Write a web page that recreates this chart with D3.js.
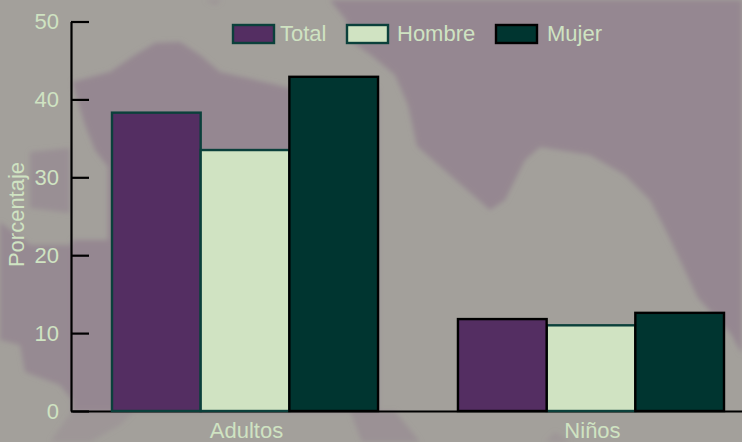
<!DOCTYPE html>
<html>
<head>
<meta charset="utf-8">
<script src="https://cdnjs.cloudflare.com/ajax/libs/d3/7.8.5/d3.min.js"></script>
<style>
html,body{margin:0;padding:0;background:#a3a09b;}
svg{display:block;}
text{font-family:"Liberation Sans",Arial,sans-serif;}
</style>
</head>
<body>
<script>
const categories = ["Adultos", "Niños"];
const seriesNames = ["Total", "Hombre", "Mujer"];
const total = [38.3, 11.8];
const hombre = [33.5, 11.0];
const mujer = [42.9, 12.6];
const yTicks = [0, 10, 20, 30, 40, 50];
const yLabel = "Porcentaje";

const W = 742, H = 442;
const textColor = "#cfe3c2";
const fills = {Total: "#542e62", Hombre: "#d0e3c2", Mujer: "#003530"};
const green = "#0b403b", black = "#000000";
const strokes = {
  Adultos: {Total: green, Hombre: green, Mujer: black},
  "Niños": {Total: black, Hombre: green, Mujer: black}
};
const legendStroke = {Total: green, Hombre: green, Mujer: black};

// Decorative backdrop (map silhouette behind the chart)
const backdropShapes = [
  {o:1, pts:[[330,0],[346,20],[352,42],[371,55],[395,75],[408,105],[417,146],[450,175],[490,210],[505,200],[525,160],[540,147],[590,155],[625,175],[650,200],[661,221],[671,241],[698,298],[731,334],[742,354],[742,0]]},
  {o:1, pts:[[72,82],[110,72],[135,55],[155,43],[180,42],[200,55],[220,72],[290,88],[378,88],[378,411],[72,411],[72,380],[72,240],[108,240],[108,167],[95,150],[85,125]]},
  {o:.7, pts:[[30,152],[70,148],[70,213],[30,208]]},
  {o:.9, pts:[[0,222],[30,245],[72,245],[72,400],[60,385],[25,372],[20,345],[0,340]]},
  {o:.4, pts:[[72,411],[135,411],[120,425],[90,442],[50,442]]},
  {o:.6, pts:[[350,411],[395,411],[420,442],[362,442]]},
  {o:.4, pts:[[545,442],[555,432],[570,442]]},
  {o:.5, pts:[[205,0],[222,0],[215,5]]}
];

const svg = d3.select("body").append("svg").attr("width", W).attr("height", H);
svg.append("rect").attr("width", W).attr("height", H).attr("fill", "#a3a09b");
const defs = svg.append("defs");
defs.append("filter").attr("id", "soft").attr("x", "-5%").attr("y", "-5%").attr("width", "110%").attr("height", "110%")
  .append("feGaussianBlur").attr("stdDeviation", 2.4);
svg.append("g").attr("filter", "url(#soft)").selectAll("path").data(backdropShapes).join("path")
  .attr("d", d => d3.line().curve(d3.curveLinearClosed)(d.pts))
  .attr("fill", "#958791")
  .attr("fill-opacity", d => d.o);

const y = d3.scaleLinear().domain([0, 50]).range([411, 21.5]);
const x0 = d3.scaleBand().domain(categories).range([72, 764]).paddingInner(0.231).paddingOuter(0.1156);
const x1 = d3.scaleBand().domain(seriesNames).range([0, x0.bandwidth()]);

const yAxis = d3.axisLeft(y).tickValues(yTicks).tickSizeInner(-18).tickSizeOuter(0).tickPadding(12);
const gy = svg.append("g").attr("transform", "translate(71,0)").call(yAxis);
gy.selectAll("path,line").attr("stroke", "#000").attr("stroke-width", 2.2);
gy.selectAll("text").attr("fill", textColor).style("font-size", "22px").style("font-family", '"Liberation Sans",Arial,sans-serif');

const xAxis = d3.axisBottom(x0).tickSize(0).tickPadding(11);
const gx = svg.append("g").attr("transform", "translate(0,411)").call(xAxis);
gx.select("path").attr("stroke", "#000").attr("stroke-width", 2.2);
gx.selectAll("text").attr("fill", textColor).attr("dx", 1.5).style("font-size", "22px").style("font-family", '"Liberation Sans",Arial,sans-serif');

const seriesValues = {Total: total, Hombre: hombre, Mujer: mujer};
const rows = [];
categories.forEach((c, i) => seriesNames.forEach(s => rows.push({c, s, v: seriesValues[s][i]})));
// black outlines sit on top of the green ones
rows.sort((a, b) => (strokes[a.c][a.s] === black) - (strokes[b.c][b.s] === black));

svg.append("g").selectAll("rect").data(rows).join("rect")
  .attr("x", d => x0(d.c) + x1(d.s))
  .attr("y", d => y(d.v))
  .attr("width", x1.bandwidth())
  .attr("height", d => y(0) - y(d.v))
  .attr("fill", d => fills[d.s])
  .attr("stroke", d => strokes[d.c][d.s])
  .attr("stroke-width", 2.4);

svg.append("text")
  .attr("transform", "translate(23.5,214.5) rotate(-90)")
  .attr("text-anchor", "middle")
  .attr("fill", textColor)
  .style("font-size", "22px")
  .text(yLabel);

const legendX = d3.scaleOrdinal().domain(seriesNames).range([233, 347, 496]);
const legend = svg.append("g").selectAll("g").data(seriesNames).join("g")
  .attr("transform", d => `translate(${legendX(d)},25)`);
legend.append("rect")
  .attr("width", 41).attr("height", 18)
  .attr("fill", d => fills[d])
  .attr("stroke", d => legendStroke[d])
  .attr("stroke-width", 2.4);
legend.append("text")
  .attr("x", d => d === "Total" ? 47 : d === "Mujer" ? 51 : 50)
  .attr("y", 16)
  .attr("fill", textColor)
  .style("font-size", "22px")
  .text(d => d);
</script>
</body>
</html>
